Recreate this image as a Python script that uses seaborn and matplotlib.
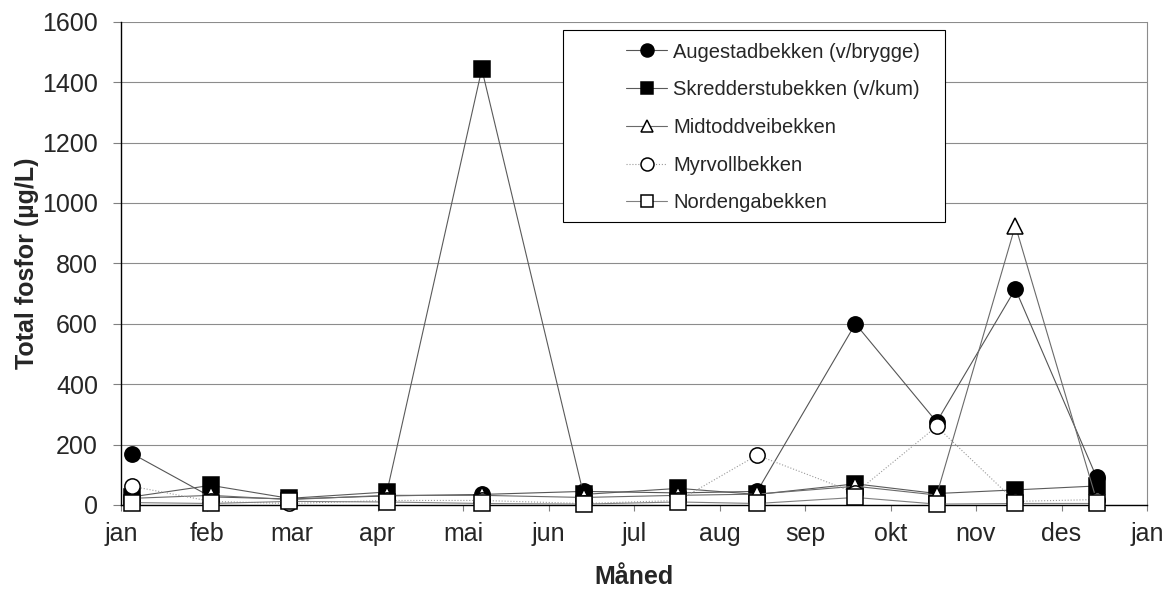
import matplotlib
matplotlib.use("Agg")
import matplotlib.pyplot as plt
from matplotlib.patches import Rectangle
import seaborn as sns
import pandas as pd

# ---- data -------------------------------------------------------------
months = ["jan", "feb", "mar", "apr", "mai", "jun", "jul", "aug",
          "sep", "okt", "nov", "des", "jan"]
# sampling positions in month units (0 = 1 jan)
sample_pos = [0.13, 1.05, 1.97, 3.11, 4.22, 5.41, 6.52, 7.44,
              8.59, 9.54, 10.46, 11.41]

augestad = [170, 27, 20, 30, 35, 45, 40, 45, 600, 275, 715, 92]
skredderstu = [27, 65, 22, 43, 1443, 35, 55, 35, 70, 38, 50, 63]
midtoddvei = [22, 32, 18, 32, 32, 25, 32, 36, 62, 33, 925, 16]
myrvoll = [62, 12, 5, 15, 15, 5, 15, 165, 40, 260, 12, 18]
nordenga = [8, 5, 12, 10, 5, 3, 10, 5, 25, 3, 5, 5]

series_names = ["Augestadbekken (v/brygge)", "Skredderstubekken (v/kum)",
                "Midtoddveibekken", "Myrvollbekken", "Nordengabekken"]
series_values = [augestad, skredderstu, midtoddvei, myrvoll, nordenga]

y_ticks = [0, 200, 400, 600, 800, 1000, 1200, 1400, 1600]

# ---- style ------------------------------------------------------------
sns.set_style("white")
plt.rcParams["font.family"] = ["Liberation Sans", "DejaVu Sans"]

styles = [
    dict(marker="o", markerfacecolor="black", markeredgecolor="black",
         color="#555555", linestyle="-"),
    dict(marker="s", markerfacecolor="black", markeredgecolor="black",
         color="#5a5a5a", linestyle="-"),
    dict(marker="^", markerfacecolor="white", markeredgecolor="black",
         color="#6a6a6a", linestyle="-"),
    dict(marker="o", markerfacecolor="white", markeredgecolor="black",
         color="#9a9a9a", linestyle=":"),
    dict(marker="s", markerfacecolor="white", markeredgecolor="black",
         color="#808080", linestyle="-"),
]

fig = plt.figure(figsize=(11.71, 5.98), dpi=100)
ax = fig.add_axes([121 / 1171, 1 - 505 / 598, (1147 - 121) / 1171, (505 - 21.7) / 598])

for name, vals, st in zip(series_names, series_values, styles):
    df = pd.DataFrame({"pos": sample_pos, "val": vals})
    sns.lineplot(data=df, x="pos", y="val", ax=ax, label=name,
                 markersize=11, markeredgewidth=1.1, linewidth=0.8,
                 clip_on=False, sort=False, zorder=3, **st)

ax.set_xlim(0, 12)
ax.set_ylim(0, 1600)
ax.set_xticks(range(len(months)))
ax.set_xticklabels(months)
ax.set_yticks(y_ticks)
ax.set_yticklabels([str(v) for v in y_ticks])

ax.yaxis.grid(True, color="#8c8c8c", linewidth=0.8)
ax.xaxis.grid(False)
ax.set_axisbelow(True)

for s in ["left", "bottom"]:
    ax.spines[s].set_color("black")
    ax.spines[s].set_linewidth(1.0)
ax.spines["right"].set_color("#8c8c8c")
ax.spines["right"].set_linewidth(0.8)
ax.spines["top"].set_visible(False)

ax.tick_params(axis="y", direction="out", length=5.5, width=0.8,
               color="#808080", pad=11, labelsize=18, left=True)
ax.tick_params(axis="x", direction="out", length=4.5, width=0.8,
               color="#808080", pad=7.5, labelsize=18, bottom=True)

ax.set_xlabel("Måned", fontsize=18, fontweight="bold")
ax.set_ylabel("Total fosfor (µg/L)", fontsize=18, fontweight="bold")
ax.xaxis.set_label_coords(0.5, -0.124)
ax.yaxis.set_label_coords(-0.08, 0.5)

# legend frame + legend
frame = Rectangle((563 / 1171, 1 - 222 / 598), (945 - 563) / 1171, (222 - 30) / 598,
                  transform=fig.transFigure, facecolor="white",
                  edgecolor="black", linewidth=0.8, zorder=6)
fig.patches.append(frame)

handles, labels = ax.get_legend_handles_labels()
leg = fig.legend(handles, labels, loc="upper left",
                 bbox_to_anchor=(626 / 1171, 1 - 42.5 / 598),
                 frameon=False, fontsize=14.5, borderpad=0, borderaxespad=0,
                 handlelength=2.05, handletextpad=0.3,
                 labelspacing=0.93, markerscale=0.85)
leg.set_zorder(7)
if ax.get_legend() is not None:
    ax.get_legend().remove()

fig.savefig("out.png", dpi=100)
